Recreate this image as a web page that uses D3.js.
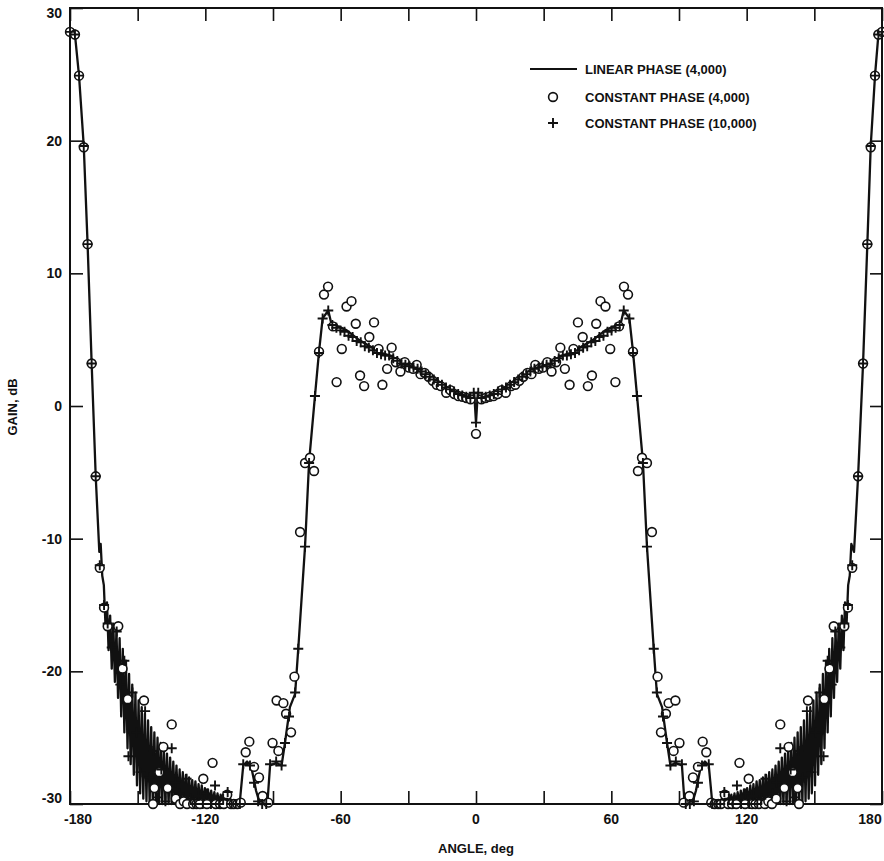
<!DOCTYPE html>
<html>
<head>
<meta charset="utf-8">
<script src="https://d3js.org/d3.v7.min.js"></script>
<style>
  body { margin: 0; background: #fff; }
  svg text { font-family: "Liberation Sans", Arial, sans-serif; font-weight: bold; fill: #111; }
</style>
</head>
<body>
<svg id="chart" width="884" height="861"></svg>
<script>
// axis ticks and labels
var xTicks = [-180, -150, -120, -90, -60, -30, 0, 30, 60, 90, 120, 150, 180];
var xLabels = [-180, -120, -60, 0, 60, 120, 180];
var yTicks = [-30, -20, -10, 0, 10, 20, 30];
var legendNames = ["LINEAR PHASE (4,000)", "CONSTANT PHASE (4,000)", "CONSTANT PHASE (10,000)"];

// linear phase (4,000) -- [angle deg, gain dB]
var linearLeft = [
  [-180, 28.3], [-177.8, 28.0], [-176, 24.9], [-173.9, 19.6], [-172.2, 12.2], [-170.4, 3.2], [-168.6, -5.3], [-167, -11.0],
  [-166.4, -10.4], [-165.7, -12.8], [-165.0, -13.5], [-164.3, -16.4], [-163.6, -14.8], [-162.9, -18.4], [-162.2, -15.8],
  [-161.5, -19.8], [-160.8, -16.4], [-160.1, -20.8], [-159.4, -16.9], [-158.7, -22.0], [-158.0, -17.5], [-157.3, -23.4],
  [-156.6, -18.3], [-155.9, -24.6], [-155.2, -19.2], [-154.5, -25.8], [-153.8, -20.2], [-153.1, -27.0], [-152.4, -21.0],
  [-151.7, -27.8], [-151.0, -21.6], [-150.3, -28.6], [-149.6, -22.2], [-148.9, -29.2], [-148.2, -22.7], [-147.5, -29.6],
  [-146.8, -23.2], [-146.1, -29.8], [-145.4, -23.7], [-144.7, -30], [-144.0, -24.2], [-143.3, -30], [-142.6, -24.6],
  [-141.9, -30], [-141.2, -25.0], [-140.5, -30], [-139.8, -25.4], [-139.1, -30], [-138.4, -25.8], [-137.7, -30],
  [-137.0, -26.2], [-136.3, -30], [-135.6, -26.5], [-134.9, -30], [-134.2, -26.8], [-133.5, -30], [-132.8, -27.1],
  [-132.1, -30], [-131.4, -27.4], [-130.7, -30], [-130.0, -27.6], [-129.3, -30], [-128.6, -27.8], [-127.9, -30],
  [-127.2, -28.0], [-126.5, -30], [-125.8, -28.2], [-125.1, -30], [-124.4, -28.3], [-123.7, -30], [-123.0, -28.5],
  [-122.3, -30], [-121.6, -28.6], [-120.9, -30], [-120.2, -28.8], [-119.5, -30], [-118.8, -28.9], [-118.1, -30],
  [-117.4, -29.0], [-116.7, -30], [-116.0, -29.1], [-115.3, -30], [-114.6, -29.2], [-113.9, -30], [-113.2, -29.3],
  [-112.5, -30], [-111.8, -29.4], [-111.1, -30], [-110.4, -29.5], [-109.7, -30], [-109.0, -29.6], [-108.3, -30],
  [-107.6, -29.8], [-106.9, -30], [-104.8, -30], [-103.2, -27.1], [-101.5, -26.8], [-100.0, -27.1], [-99.4, -27.4],
  [-97.5, -29.0], [-95.8, -30], [-92.5, -30], [-91.3, -27.1], [-88.5, -26.9], [-86.2, -27.1], [-84.7, -25.4],
  [-82.5, -22.7], [-80.2, -21.7], [-78.8, -18.3], [-75.8, -10.6], [-74.0, -4.2], [-71.4, 0.75], [-69.6, 4.1],
  [-68.0, 6.6], [-65.5, 7.2], [-64.4, 6.4], [-63.4, 6.0], [-61.0, 6.0], [-57.3, 5.7], [-52, 5.0], [-47, 4.5],
  [-42, 4.0], [-38.1, 3.8], [-32, 3.2], [-26.3, 2.95], [-22, 2.4], [-18.9, 2.0], [-15, 1.6], [-11.5, 1.25],
  [-7.5, 0.9], [-4.1, 0.65], [-1.5, 0.6], [-0.8, 1.0], [0, -1.25]
];
var linearRight = [
  [0.8, 1.0], [1.5, 0.6], [4.1, 0.65], [7.5, 0.9], [11.5, 1.25], [15, 1.6], [18.9, 2.0], [22, 2.4], [26.3, 2.95],
  [32, 3.2], [38.1, 3.8], [42, 4.0], [47, 4.5], [52, 5.0], [57.3, 5.7], [61.0, 6.0], [63.4, 6.0], [64.4, 6.4],
  [65.5, 7.2], [68.0, 6.6], [69.6, 4.1], [71.4, 0.75], [74.0, -4.2], [75.8, -10.6], [78.8, -18.3], [80.2, -21.7],
  [82.5, -22.7], [84.7, -25.4], [86.2, -27.1], [88.5, -26.9], [91.3, -27.1], [92.5, -30], [95.8, -30], [97.5, -29.0],
  [99.4, -27.4], [100.0, -27.1], [101.5, -26.8], [103.2, -27.1], [104.8, -30], [106.9, -30], [107.6, -29.8],
  [108.3, -30], [109.0, -29.6], [109.7, -30], [110.4, -29.5], [111.1, -30], [111.8, -29.4], [112.5, -30],
  [113.2, -29.3], [113.9, -30], [114.6, -29.2], [115.3, -30], [116.0, -29.1], [116.7, -30], [117.4, -29.0],
  [118.1, -30], [118.8, -28.9], [119.5, -30], [120.2, -28.8], [120.9, -30], [121.6, -28.6], [122.3, -30],
  [123.0, -28.5], [123.7, -30], [124.4, -28.3], [125.1, -30], [125.8, -28.2], [126.5, -30], [127.2, -28.0],
  [127.9, -30], [128.6, -27.8], [129.3, -30], [130.0, -27.6], [130.7, -30], [131.4, -27.4], [132.1, -30],
  [132.8, -27.1], [133.5, -30], [134.2, -26.8], [134.9, -30], [135.6, -26.5], [136.3, -30], [137.0, -26.2],
  [137.7, -30], [138.4, -25.8], [139.1, -30], [139.8, -25.4], [140.5, -30], [141.2, -25.0], [141.9, -30],
  [142.6, -24.6], [143.3, -30], [144.0, -24.2], [144.7, -30], [145.4, -23.7], [146.1, -29.8], [146.8, -23.2],
  [147.5, -29.6], [148.2, -22.7], [148.9, -29.2], [149.6, -22.2], [150.3, -28.6], [151.0, -21.6], [151.7, -27.8],
  [152.4, -21.0], [153.1, -27.0], [153.8, -20.2], [154.5, -25.8], [155.2, -19.2], [155.9, -24.6], [156.6, -18.3],
  [157.3, -23.4], [158.0, -17.5], [158.7, -22.0], [159.4, -16.9], [160.1, -20.8], [160.8, -16.4], [161.5, -19.8],
  [162.2, -15.8], [162.9, -18.4], [163.6, -14.8], [164.3, -16.4], [165.0, -13.5], [165.7, -12.8], [166.4, -10.4],
  [167.6, -11.0], [169.4, -5.3], [171.6, 3.2], [173.5, 12.2], [175.0, 19.6], [176.9, 24.9], [178.4, 28.0], [180, 28.3]
];

// constant phase (4,000) -- circles
var circleLeft = [
  [-180, 28.2], [-177.8, 28.0], [-176, 24.9], [-173.9, 19.5], [-172.2, 12.2], [-170.4, 3.2], [-168.6, -5.3],
  [-166.8, -12.2], [-164.9, -15.2], [-163.3, -16.6], [-158.6, -16.6], [-156.7, -19.8],
  [-154.4, -22.1], [-147.2, -22.2],
  [-143.2, -30], [-142.6, -28.8], [-140.4, -27.6], [-138.6, -25.7], [-136.7, -28.8],
  [-134.9, -24.0], [-133.1, -29.6], [-131.2, -30], [-129.6, -29.8], [-128.1, -30], [-125.4, -30], [-123.9, -30],
  [-122.4, -30], [-120.9, -28.1], [-119.3, -30], [-116.8, -26.9], [-115.4, -30], [-113.5, -30], [-111.8, -30],
  [-110.3, -29.3], [-108.6, -30], [-107.4, -30], [-105.8, -30], [-104.3, -29.9], [-102.1, -26.1], [-100.5, -25.3],
  [-98.4, -27.2], [-96.2, -28.0], [-94.6, -29.4], [-92.1, -29.9], [-90.2, -25.4], [-88.4, -22.2], [-87.6, -26.0],
  [-85.4, -22.4], [-84.2, -23.2], [-82.0, -24.6], [-80.5, -20.4], [-78.0, -9.5], [-75.8, -4.3], [-73.6, -3.9],
  [-71.8, -4.9], [-69.6, 4.1], [-67.4, 8.4], [-65.6, 9.0], [-63.4, 6.0], [-61.8, 1.8], [-59.5, 4.3], [-57.4, 7.5],
  [-55.2, 7.9], [-53.3, 6.2], [-51.4, 2.3], [-49.6, 1.5], [-47.3, 5.2], [-45.2, 6.3], [-43.2, 4.3], [-41.5, 1.6],
  [-39.4, 2.8], [-37.4, 4.4], [-35.5, 3.3], [-33.5, 2.6], [-31.6, 3.3], [-29.7, 2.9], [-27.9, 2.8], [-26.3, 3.1],
  [-24.6, 2.4], [-22.8, 2.5], [-21.0, 2.2], [-19.2, 1.9], [-17.4, 1.6], [-15.6, 1.5], [-13.2, 1.0], [-11.4, 1.2],
  [-9.6, 0.9], [-7.8, 0.75], [-6.0, 0.7], [-4.2, 0.6], [-2.4, 0.5], [0, -2.1]
];
var circleRight = [
  [2.4, 0.5], [4.2, 0.6], [6.0, 0.7], [7.8, 0.75], [9.6, 0.9], [11.4, 1.2], [13.2, 1.0], [15.6, 1.5], [17.4, 1.6],
  [19.2, 1.9], [21.0, 2.2], [22.8, 2.5], [24.6, 2.4], [26.3, 3.1], [27.9, 2.8], [29.7, 2.9], [31.6, 3.3], [33.5, 2.6],
  [35.5, 3.3], [37.4, 4.4], [39.4, 2.8], [41.5, 1.6], [43.2, 4.3], [45.2, 6.3], [47.3, 5.2], [49.6, 1.5], [51.4, 2.3],
  [53.3, 6.2], [55.2, 7.9], [57.4, 7.5], [59.5, 4.3], [61.8, 1.8], [63.4, 6.0], [65.6, 9.0], [67.4, 8.4], [69.6, 4.1],
  [71.8, -4.9], [73.6, -3.9], [75.8, -4.3], [78.0, -9.5], [80.5, -20.4], [82.0, -24.6], [84.2, -23.2], [85.4, -22.4],
  [87.6, -26.0], [88.4, -22.2], [90.2, -25.4], [92.1, -29.9], [94.6, -29.4], [96.2, -28.0], [98.4, -27.2],
  [100.5, -25.3], [102.1, -26.1], [104.3, -29.9], [105.8, -30], [107.4, -30], [108.6, -30], [110.3, -29.3],
  [111.8, -30], [113.5, -30], [115.4, -30], [116.8, -26.9], [119.3, -30], [120.9, -28.1], [122.4, -30], [123.9, -30],
  [125.4, -30], [128.1, -30], [129.6, -29.8], [131.2, -30], [133.1, -29.6], [134.9, -24.0], [136.7, -28.8],
  [138.6, -25.7], [140.4, -27.6], [142.6, -28.8], [143.2, -30], [147.2, -22.2],
  [154.4, -22.1], [156.7, -19.8], [158.6, -16.6],
  [163.3, -16.6], [164.9, -15.2], [166.8, -12.2], [169.4, -5.3], [171.6, 3.2], [173.5, 12.2], [175.0, 19.5],
  [176.9, 24.9], [178.4, 28.0], [180, 28.2]
];

// constant phase (10,000) -- plus signs
var plusLeft = [
  [-180, 28.2], [-177.8, 28.0], [-176, 24.9], [-173.9, 19.6], [-172.2, 12.2], [-170.4, 3.2], [-168.6, -5.3],
  [-166.8, -12.0], [-164.9, -15.0], [-163.3, -16.4], [-161.5, -18.2], [-159.3, -17.0], [-157.7, -21.0],
  [-155.9, -19.2], [-154.1, -26.4], [-152.3, -21.6], [-150.5, -24.6], [-148.7, -27.6], [-146.7, -23.0],
  [-144.9, -28.0], [-143.1, -26.0], [-141.3, -29.5], [-139.5, -27.4], [-137.7, -29.8], [-134.9, -25.8],
  [-133.1, -28.4], [-131.3, -29.2], [-128.3, -28.1], [-126.5, -29.6], [-124.7, -30], [-122.9, -29.4], [-121.1, -30],
  [-119.3, -29.2], [-117.5, -30], [-115.7, -28.6], [-113.9, -30], [-112.1, -29.6], [-110.1, -29.1], [-108.3, -30],
  [-106.5, -30], [-104.7, -30], [-103.2, -27.0], [-100.2, -27.1], [-98.4, -28.4], [-96.6, -29.8], [-94.8, -30],
  [-93.0, -30], [-91.3, -27.0], [-88.6, -26.8], [-86.2, -27.1], [-84.7, -25.4], [-82.9, -23.4], [-80.2, -21.6],
  [-78.8, -18.3], [-75.8, -10.6], [-74.0, -4.3], [-71.4, 0.75], [-69.6, 4.0], [-68.0, 6.6], [-65.5, 7.2],
  [-63.7, 6.1], [-61.9, 5.9], [-60.1, 5.7], [-58.3, 5.6], [-56.5, 5.3], [-54.7, 5.2], [-52.9, 4.9], [-51.1, 4.8],
  [-49.3, 4.5], [-47.5, 4.4], [-45.7, 4.2], [-43.9, 4.0], [-42.1, 3.9], [-40.3, 3.8], [-38.5, 3.8], [-36.7, 3.6],
  [-34.9, 3.4], [-33.1, 3.2], [-31.3, 3.1], [-29.5, 3.0], [-27.7, 2.9], [-25.9, 2.8], [-24.1, 2.6], [-22.3, 2.4],
  [-20.5, 2.2], [-18.7, 2.0], [-16.9, 1.8], [-15.1, 1.6], [-13.3, 1.4], [-11.5, 1.25], [-9.7, 1.1], [-7.9, 0.9],
  [-6.1, 0.8], [-4.3, 0.7], [-2.5, 0.6], [-1.0, 1.0], [0, -1.25]
];
var plusRight = [
  [1.0, 1.0], [2.5, 0.6], [4.3, 0.7], [6.1, 0.8], [7.9, 0.9], [9.7, 1.1], [11.5, 1.25], [13.3, 1.4], [15.1, 1.6],
  [16.9, 1.8], [18.7, 2.0], [20.5, 2.2], [22.3, 2.4], [24.1, 2.6], [25.9, 2.8], [27.7, 2.9], [29.5, 3.0], [31.3, 3.1],
  [33.1, 3.2], [34.9, 3.4], [36.7, 3.6], [38.5, 3.8], [40.3, 3.8], [42.1, 3.9], [43.9, 4.0], [45.7, 4.2], [47.5, 4.4],
  [49.3, 4.5], [51.1, 4.8], [52.9, 4.9], [54.7, 5.2], [56.5, 5.3], [58.3, 5.6], [60.1, 5.7], [61.9, 5.9], [63.7, 6.1],
  [65.5, 7.2], [68.0, 6.6], [69.6, 4.0], [71.4, 0.75], [74.0, -4.3], [75.8, -10.6], [78.8, -18.3], [80.2, -21.6],
  [82.9, -23.4], [84.7, -25.4], [86.2, -27.1], [88.6, -26.8], [91.3, -27.0], [93.0, -30], [94.8, -30], [96.6, -29.8],
  [98.4, -28.4], [100.2, -27.1], [103.2, -27.0], [104.7, -30], [106.5, -30], [108.3, -30], [110.1, -29.1],
  [112.1, -29.6], [113.9, -30], [115.7, -28.6], [117.5, -30], [119.3, -29.2], [121.1, -30], [122.9, -29.4],
  [124.7, -30], [126.5, -29.6], [128.3, -28.1], [131.3, -29.2], [133.1, -28.4], [134.9, -25.8], [137.7, -29.8],
  [139.5, -27.4], [141.3, -29.5], [143.1, -26.0], [144.9, -28.0], [146.7, -23.0], [148.7, -27.6], [150.5, -24.6],
  [152.3, -21.6], [154.1, -26.4], [155.9, -19.2], [157.7, -21.0], [159.3, -17.0], [161.5, -18.2], [163.3, -16.4],
  [164.9, -15.0], [166.8, -12.0], [169.4, -5.3], [171.6, 3.2], [173.5, 12.2], [175.0, 19.6], [176.9, 24.9],
  [178.4, 28.0], [180, 28.2]
];

var linearPhase = linearLeft.concat(linearRight);
var constPhase4k = circleLeft.concat(circleRight);
var constPhase10k = plusLeft.concat(plusRight);

var svg = d3.select("#chart");
var plotL = 70, plotR = 882, plotT = 8, plotB = 804;

var x = d3.scaleLinear().domain([-180, 180]).range([plotL, plotR]);
var y = d3.scaleLinear().domain([-30, 30]).range([plotB, plotT]);

// ticks (pointing inward on all four sides)
svg.append("g").attr("transform", "translate(0," + plotB + ")")
  .call(d3.axisBottom(x).tickValues(xTicks).tickSize(-13).tickFormat(""));
svg.append("g").attr("transform", "translate(0," + plotT + ")")
  .call(d3.axisTop(x).tickValues(xTicks).tickSize(-13).tickFormat(""));
svg.append("g").attr("transform", "translate(" + plotL + ",0)")
  .call(d3.axisLeft(y).tickValues(yTicks).tickSize(-13).tickFormat(""));
svg.append("g").attr("transform", "translate(" + plotR + ",0)")
  .call(d3.axisRight(y).tickValues(yTicks).tickSize(-12).tickFormat(""));
svg.selectAll(".domain").remove();
svg.selectAll(".tick line").attr("stroke", "#111").attr("stroke-width", 1.6);

svg.append("rect")
  .attr("x", plotL).attr("y", plotT)
  .attr("width", plotR - plotL).attr("height", plotB - plotT)
  .attr("fill", "none").attr("stroke", "#111").attr("stroke-width", 2);

// tick labels
svg.selectAll(".xlab").data(xLabels).enter().append("text")
  .attr("class", "xlab")
  .attr("x", function(d) { return x(d) + (d === -180 ? 8 : d === 180 ? -12 : 0); })
  .attr("y", 824)
  .attr("text-anchor", "middle")
  .style("font-size", "14px")
  .text(function(d) { return d < 0 ? "-" + Math.abs(d) : d; });

svg.selectAll(".ylab").data(yTicks).enter().append("text")
  .attr("class", "ylab")
  .attr("x", 62)
  .attr("y", function(d) { return y(d) + 5 + (d === 30 ? 5 : d === -30 ? -6 : 0); })
  .attr("text-anchor", "end")
  .style("font-size", "14px")
  .text(function(d) { return d < 0 ? "-" + Math.abs(d) : d; });

// axis titles
svg.append("text").attr("x", 476).attr("y", 853).attr("text-anchor", "middle")
  .style("font-size", "13px").text("ANGLE, deg");
svg.append("text").attr("transform", "translate(17,407) rotate(-90)").attr("text-anchor", "middle")
  .style("font-size", "13px").text("GAIN, dB");

// linear phase curve
var line = d3.line().x(function(d) { return x(d[0]); }).y(function(d) { return y(d[1]); });
svg.append("path").datum(linearPhase)
  .attr("d", line).attr("fill", "none").attr("stroke", "#111")
  .attr("stroke-width", 2.3).attr("stroke-linejoin", "round");

// constant phase (4,000) circles
svg.selectAll(".c4k").data(constPhase4k).enter().append("circle")
  .attr("class", "c4k")
  .attr("cx", function(d) { return x(d[0]); })
  .attr("cy", function(d) { return y(d[1]); })
  .attr("r", 4.4)
  .attr("fill", "#fff").attr("stroke", "#111").attr("stroke-width", 1.6);

// constant phase (10,000) plus signs
var plusPath = "M-5,0H5M0,-5V5";
svg.selectAll(".p10k").data(constPhase10k).enter().append("path")
  .attr("class", "p10k")
  .attr("transform", function(d) { return "translate(" + x(d[0]) + "," + y(d[1]) + ")"; })
  .attr("d", plusPath)
  .attr("stroke", "#111").attr("stroke-width", 1.9);

// legend
var lg = svg.append("g");
lg.append("line").attr("x1", 530).attr("x2", 577).attr("y1", 69).attr("y2", 69)
  .attr("stroke", "#111").attr("stroke-width", 2);
lg.append("circle").attr("cx", 553).attr("cy", 97).attr("r", 4.4)
  .attr("fill", "#fff").attr("stroke", "#111").attr("stroke-width", 1.6);
lg.append("path").attr("transform", "translate(553,123)").attr("d", plusPath)
  .attr("stroke", "#111").attr("stroke-width", 1.9);
lg.selectAll(".legtext").data(legendNames).enter().append("text")
  .attr("class", "legtext")
  .attr("x", 585)
  .attr("y", function(d, i) { return [69, 97, 123][i] + 5; })
  .style("font-size", "13px")
  .text(function(d) { return d; });
</script>
</body>
</html>
